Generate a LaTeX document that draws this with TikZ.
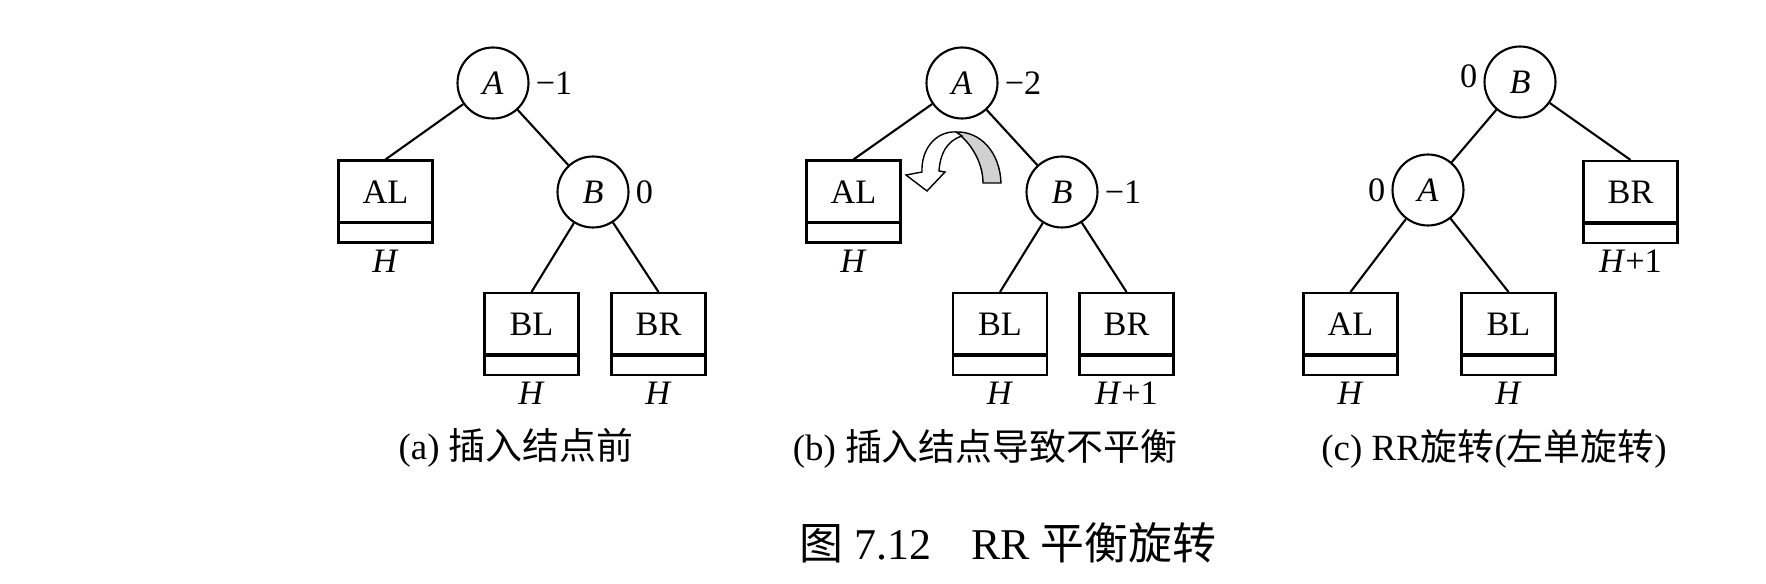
\documentclass[tikz,border=0pt]{standalone}
\usepackage{fontspec}
\setmainfont{Liberation Serif}
\newfontfamily\cjk{Noto Sans CJK SC}
\definecolor{ribbon}{rgb}{0.82,0.82,0.82}
\tikzset{
  avl/.style={circle, draw, line width=1.2pt, minimum size=1.42cm, inner sep=0pt},
  subtree/.style={rectangle, draw, line width=1.2pt, minimum width=1.88cm, inner sep=0pt,
    text height=0.86cm, text depth=0.78cm,
    path picture={\draw[line width=2pt] ([yshift=0.4cm]path picture bounding box.south west)
      -- ([yshift=0.4cm]path picture bounding box.south east);}},
  branch/.style={line width=1.2pt},
  caption/.style={font=\fontsize{21}{25}\selectfont},
  figtitle/.style={font=\fontsize{25}{30}\selectfont}
}

\begin{document}
\begin{tikzpicture}[x=0.02cm, y=-0.02cm, font=\fontsize{19.5}{23}\selectfont]
\useasboundingbox (0,0) rectangle (1766,584);

% (a)
\node[avl, label={right:−1}] (Aa) at (493,83) {\textit{A}};
\node[avl, label={right:0}] (Ba) at (593,192) {\textit{B}};
\node[subtree, label={below:\textit{H}}] (ALa) at (385.5,201.5) {AL};
\node[subtree, label={below:\textit{H}}] (BLa) at (531.5,334) {BL};
\node[subtree, label={below:\textit{H}}] (BRa) at (658.5,334) {BR};
\draw[branch] (Aa) -- (ALa.north);
\draw[branch] (Aa) -- (Ba);
\draw[branch] (Ba) -- (BLa.north);
\draw[branch] (Ba) -- (BRa.north);
\node[caption] (capa) at (516,448) {(a) {\cjk 插入结点前}};

% (b)
\node[avl, label={right:−2}] (Ab) at (962,83) {\textit{A}};
\node[avl, label={right:−1}] (Bb) at (1062,192) {\textit{B}};
\node[subtree, label={below:\textit{H}}] (ALb) at (853.5,201.5) {AL};
\node[subtree, label={below:\textit{H}}] (BLb) at (1000,334) {BL};
\node[subtree, label={below:\textit{H}+1}] (BRb) at (1126.5,334) {BR};
\draw[branch] (Ab) -- (ALb.north);
\draw[branch] (Ab) -- (Bb);
\draw[branch] (Bb) -- (BLb.north);
\draw[branch] (Bb) -- (BRb.north);
\filldraw[fill=ribbon, line width=0.8pt] (1001,183) .. controls (1000,152) and (980,131) .. (956,132)
  .. controls (968,140) and (983,160) .. (983,183) -- cycle;
\filldraw[fill=white, line width=0.8pt] (956,132) .. controls (935,131) and (921,150) .. (922,172)
  -- (906,175) -- (927,191) -- (945,172) -- (939,171)
  .. controls (940,155) and (946,141) .. (962,136) -- cycle;
\node[caption] (capb) at (985,449) {(b) {\cjk 插入结点导致不平衡}};

% (c)
\node[avl, label={[yshift=0.12cm]left:0}] (Bc) at (1520,82) {\textit{B}};
\node[avl, label={left:0}] (Ac) at (1428,190) {\textit{A}};
\node[subtree, label={below:\textit{H}+1}] (BRc) at (1630.5,202) {BR};
\node[subtree, label={below:\textit{H}}] (ALc) at (1350.5,334) {AL};
\node[subtree, label={below:\textit{H}}] (BLc) at (1508.5,334) {BL};
\draw[branch] (Bc) -- (Ac);
\draw[branch] (Bc) -- (BRc.north);
\draw[branch] (Ac) -- (ALc.north);
\draw[branch] (Ac) -- (BLc.north);
\node[caption] (capc) at (1494,449) {(c) RR{\cjk 旋转}({\cjk 左单旋转})};

\node[figtitle] (fig) at (1008,543) {{\cjk 图} 7.12\hspace{0.9em}RR {\cjk 平衡旋转}};
\end{tikzpicture}
\end{document}
